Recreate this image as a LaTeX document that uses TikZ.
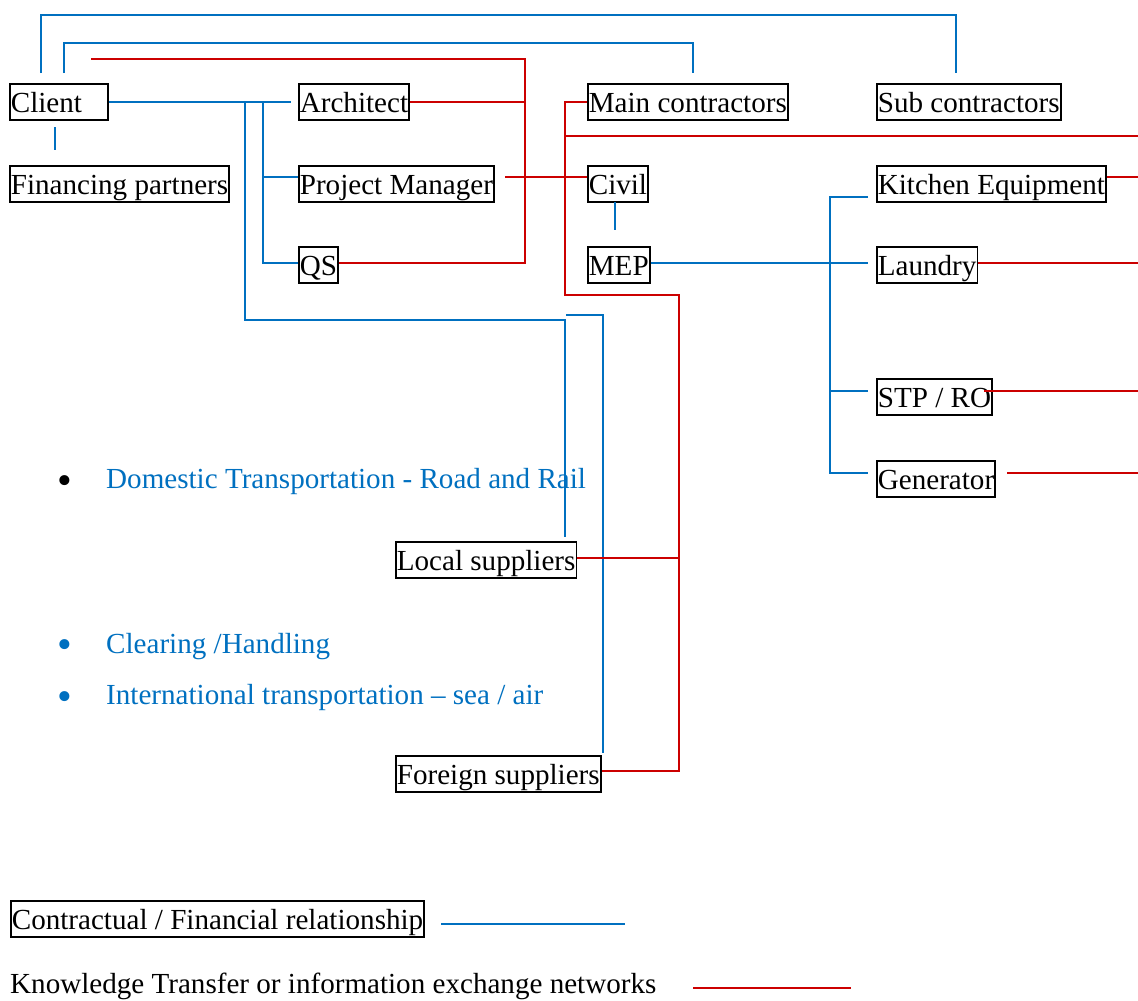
\documentclass[tikz,border=0pt]{standalone}
\usepackage{fontspec}
\setmainfont{Liberation Serif}
\definecolor{lblue}{RGB}{0,112,192}
\definecolor{lred}{RGB}{204,0,0}
\begin{document}
\begin{tikzpicture}[x=1pt,y=-1pt,
  font=\fontsize{29.1}{35}\selectfont,
  box/.style={draw=black,line width=1.7pt,anchor=north west,inner xsep=1pt,inner ysep=0pt,
    text height=29pt,text depth=7pt,minimum height=36pt,align=left},
  bl/.style={draw=lblue,line width=1.6pt},
  rd/.style={draw=lred,line width=1.6pt},
  txt/.style={anchor=base west,inner sep=0pt},
  bullet/.style={anchor=base,inner sep=0pt,font=\fontsize{42}{42}\selectfont}]
\useasboundingbox (0,0) rectangle (1138,1001);
% boxes
\node[box,text width=96pt] (client) at (9,83) {Client};
\node[box] (fin) at (9,165) {Financing partners};
\node[box] (arch) at (298,83) {Architect};
\node[box] (pm) at (298,165) {Project Manager};
\node[box] (qs) at (298,246) {QS};
\node[box] (main) at (587,83) {Main contractors};
\node[box] (sub) at (876,83) {Sub contractors};
\node[box] (civil) at (587,165) {Civil};
\node[box] (mep) at (587,246) {MEP};
\node[box] (kit) at (876,165) {Kitchen Equipment};
\node[box] (lau) at (876,246) {Laundry};
\node[box] (stp) at (876,378) {STP / RO};
\node[box] (gen) at (876,460) {Generator};
\node[box] (loc) at (395,541) {Local suppliers};
\node[box] (for) at (395,755) {Foreign suppliers};
\node[box] (leg1) at (10,900) {Contractual / Financial relationship};
\node[txt] (leg2) at (10,993) {Knowledge Transfer or information exchange networks};
% bullets
\node[bullet] (b1) at (65,494) {•};
\node[txt,text=lblue] (t1) at (106,488) {Domestic Transportation - Road and Rail};
\node[bullet,text=lblue] (b2) at (65,658) {•};
\node[txt,text=lblue] (t2) at (106,653) {Clearing /Handling};
\node[bullet,text=lblue] (b3) at (65,710) {•};
\node[txt,text=lblue] (t3) at (106,704) {International transportation – sea / air};
% free coordinates
\coordinate (c1) at (41,73);
\coordinate (s1) at (956,73);
\coordinate (c2) at (64,73);
\coordinate (m2) at (693,73);
\coordinate (ae) at (291,102);
\coordinate (f1) at (55,127);
\coordinate (f2) at (55,150);
\coordinate (cv1) at (615,202);
\coordinate (cv2) at (615,230);
\coordinate (lt) at (565,537);
\coordinate (ft) at (603,753);
\coordinate (rs) at (91,59);
\coordinate (pmr) at (505,177);
\coordinate (rr) at (1138,136);
\coordinate (kr) at (1138,177);
\coordinate (lr) at (1138,263);
\coordinate (sr) at (1138,391);
\coordinate (gs) at (1007,473);
\coordinate (gr) at (1138,473);
\coordinate (sl) at (984,391);
\coordinate (lb1) at (441,924);
\coordinate (lb2) at (625,924);
\coordinate (lr1) at (693,988);
\coordinate (lr2) at (851,988);
% blue connectors
\draw[bl] (c1) -- (41,15) -- (956,15) -- (s1);
\draw[bl] (c2) -- (64,43) -- (693,43) -- (m2);
\draw[bl] (client.east |- 0,102) -- (ae);
\draw[bl] (245,102) -- (245,320) -- (565,320) -- (lt);
\draw[bl] (566,315) -- (603,315) -- (ft);
\draw[bl] (263,102) -- (263,263) -- (qs.west |- 0,263);
\draw[bl] (263,177) -- (pm.west |- 0,177);
\draw[bl] (f1) -- (f2);
\draw[bl] (cv1) -- (cv2);
\draw[bl] (mep.east |- 0,263) -- (868,263);
\draw[bl] (868,197) -- (830,197) -- (830,473) -- (868,473);
\draw[bl] (830,391) -- (868,391);
\draw[bl] (lb1) -- (lb2);
% red connectors
\draw[rd] (rs) -- (525,59) -- (525,263) -- (qs.east |- 0,263);
\draw[rd] (arch.east |- 0,102) -- (525,102);
\draw[rd] (pmr) -- (civil.west |- 0,177);
\draw[rd] (main.west |- 0,102) -- (565,102) -- (565,295) -- (679,295) -- (679,771) -- (for.east |- 0,771);
\draw[rd] (565,136) -- (rr);
\draw[rd] (loc.east |- 0,558) -- (679,558);
\draw[rd] (kit.east |- 0,177) -- (kr);
\draw[rd] (lau.east |- 0,263) -- (lr);
\draw[rd] (sl) -- (sr);
\draw[rd] (gs) -- (gr);
\draw[rd] (lr1) -- (lr2);
\end{tikzpicture}
\end{document}
